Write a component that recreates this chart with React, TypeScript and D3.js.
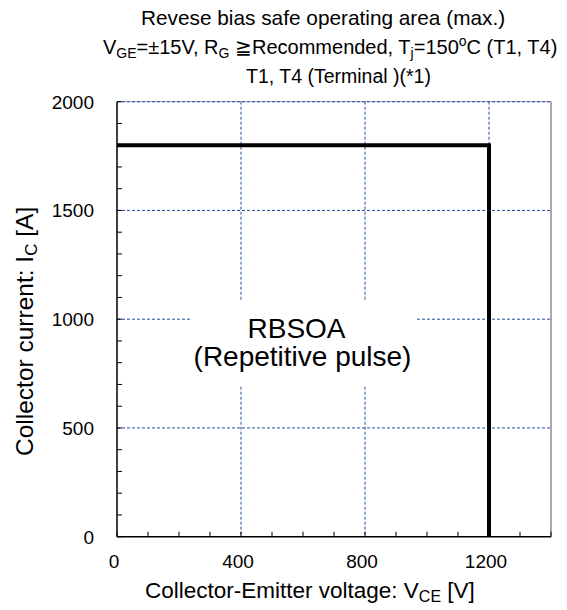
import React from "react";
import * as d3 from "d3";

const xDomain = [0, 1400];
const yDomain = [0, 2000];
const xMajorTicks = [0, 400, 800, 1200];
const yMajorTicks = [0, 500, 1000, 1500, 2000];
const xMinorStep = 100;
const yMinorStep = 100;
const rbsoaV = [0, 1200, 1200];
const rbsoaI = [1800, 1800, 0];

const W = 567;
const H = 610;
const L = 117, R = 551, T = 101.7, B = 536.7;
const FONT = "'Liberation Sans', Arial, sans-serif";
const GRID = "#1f4f9f";

export default function App() {
  const x = d3.scaleLinear().domain(xDomain).range([L, R]);
  const y = d3.scaleLinear().domain(yDomain).range([B, T]);
  const xMinor = d3.range(xDomain[0], xDomain[1] + 1, xMinorStep);
  const yMinor = d3.range(yDomain[0], yDomain[1] + 1, yMinorStep);
  const pts: [number, number][] = rbsoaV.map((v, i) => [v, rbsoaI[i]]);
  const line = d3.line<[number, number]>().x((d) => x(d[0])).y((d) => y(d[1]));

  return (
    <svg width={W} height={H} style={{ position: "absolute", left: 0, top: 0, background: "#fff" }} fontFamily={FONT}>
      <rect x={0} y={0} width={W} height={H} fill="#fff" />
      {/* frame top/right */}
      <line x1={L} x2={R} y1={T} y2={T} stroke="#9aa6bb" strokeWidth={1} />
      <line x1={R} x2={R} y1={T} y2={B} stroke="#555" strokeWidth={1} />
      {/* grid */}
      {xMajorTicks.filter((v) => v > 0).map((v) => (
        <line key={"gx" + v} x1={x(v)} x2={x(v)} y1={T} y2={B} stroke={GRID} strokeWidth={1} strokeDasharray="3,2" />
      ))}
      {yMajorTicks.filter((v) => v > 0).map((v) => (
        <line key={"gy" + v} x1={L} x2={R} y1={y(v)} y2={y(v)} stroke={GRID} strokeWidth={1} strokeDasharray="3,2" />
      ))}
      {/* minor ticks */}
      {xMinor.map((v) => (
        <line key={"tx" + v} x1={x(v)} x2={x(v)} y1={B} y2={B - 5} stroke="#000" strokeWidth={1} />
      ))}
      {yMinor.map((v) => (
        <line key={"ty" + v} x1={L} x2={L + 5} y1={y(v)} y2={y(v)} stroke="#000" strokeWidth={1} />
      ))}
      {/* axes */}
      <line x1={L} x2={L} y1={T} y2={B} stroke="#000" strokeWidth={1.5} />
      <line x1={L} x2={R} y1={B} y2={B} stroke="#000" strokeWidth={1.5} />
      {/* annotation box */}
      <rect x={191} y={301} width={224} height={84} fill="#fff" />
      <text x={296.5} y={338} fontSize={28} textAnchor="middle">RBSOA</text>
      <text x={302.5} y={366} fontSize={28} textAnchor="middle">(Repetitive pulse)</text>
      {/* data line */}
      <path d={line(pts) || ""} fill="none" stroke="#000" strokeWidth={4} strokeLinejoin="miter" />
      {/* tick labels */}
      {xMajorTicks.map((v) => (
        <text key={"lx" + v} x={x(v) - 3} y={568} fontSize={19} textAnchor="middle">{v}</text>
      ))}
      {yMajorTicks.map((v) => (
        <text key={"ly" + v} x={94} y={y(v) + 7} fontSize={19} textAnchor="end">{v}</text>
      ))}
      {/* axis titles */}
      <text x={145} y={598} fontSize={22.5} textAnchor="start">
        Collector-Emitter voltage: V<tspan fontSize={16} dy={4}>CE</tspan><tspan dy={-4}> [V]</tspan>
      </text>
      <text transform={`translate(33, 456) rotate(-90)`} fontSize={24.5} textAnchor="start">
        Collector current: I<tspan fontSize={17} dy={4}>C</tspan><tspan dy={-4}> [A]</tspan>
      </text>
      {/* titles */}
      <text x={141} y={25} fontSize={20.8} textAnchor="start">Revese bias safe operating area (max.)</text>
      <text x={103} y={54} fontSize={20} textAnchor="start">
        V<tspan fontSize={14} dy={4}>GE</tspan><tspan dy={-4}>=±15V, R</tspan><tspan fontSize={14} dy={4}>G</tspan><tspan dy={-4}> ≧Recommended, T</tspan><tspan fontSize={14} dy={4}>j</tspan><tspan dy={-4}>=150</tspan><tspan fontSize={14} dy={-8}>o</tspan><tspan dy={8}>C (T1, T4)</tspan>
      </text>
      <text x={246} y={83} fontSize={19.5} textAnchor="start">T1, T4 (Terminal )(*1)</text>
    </svg>
  );
}
